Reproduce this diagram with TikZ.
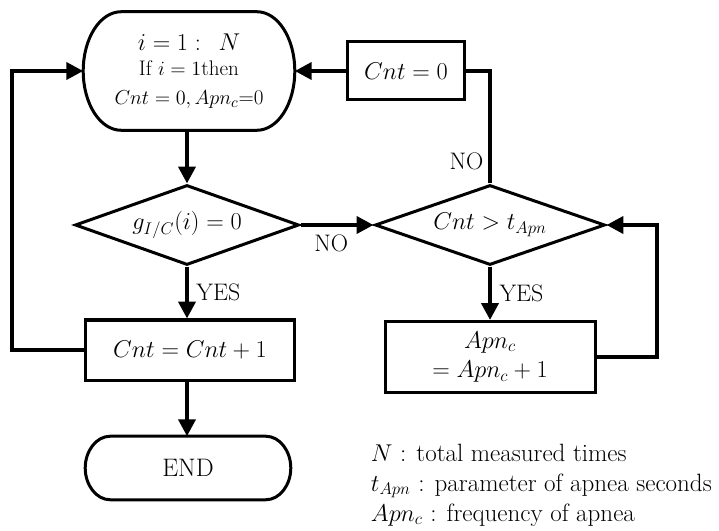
\documentclass[tikz,border=0pt]{standalone}
\usepackage{amsmath}
\usetikzlibrary{arrows.meta,shapes.geometric,calc}

\begin{document}
\begin{tikzpicture}[x=0.25mm, y=-0.25mm,
    font=\fontsize{18}{21}\selectfont,
    border/.style={line width=0.75mm},
    conn/.style={line width=1mm},
    arr/.style={line width=1mm, -{Triangle[length=4.2mm, width=4.2mm]}},
    box/.style={draw, border, inner sep=0pt, align=center},
    cond/.style={draw, border, diamond, inner sep=0pt},
    term/.style={inner sep=0pt, align=center},
    lbl/.style={font=\fontsize{17}{20}\selectfont}]

    \useasboundingbox (0,0) rectangle (719,531);

    % Left column
    \node[term, minimum width=52.75mm, minimum height=29.5mm] (start) at (189, 71)
        {$i = 1 :\;\, N$\\[-3pt]
         {\fontsize{15}{16}\selectfont If $i = 1$then}\\[-1pt]
         {\fontsize{15}{16}\selectfont $Cnt = 0, Apn_c$=0}};
    \node[cond, aspect=2.8, minimum width=56mm, minimum height=20mm] (gic) at (187, 225)
        {$g_{I/C}(i) = 0$};
    \node[box, minimum width=52mm, minimum height=15mm] (inc) at (190, 350)
        {$Cnt = Cnt + 1$};
    \node[term, minimum width=51.25mm, minimum height=15.75mm] (stop) at (188, 468) {END};

    % Right column
    \node[box, minimum width=29.25mm, minimum height=14.5mm] (reset) at (406, 71)
        {$Cnt = 0$};
    \node[cond, aspect=2.875, minimum width=57.5mm, minimum height=20mm] (cmp) at (490, 225)
        {$Cnt > t_{Apn}$};
    \node[box, minimum width=52.5mm, minimum height=17.75mm] (apn) at (490, 357)
        {$Apn_c$\\$= Apn_c + 1$};

    % Terminator outlines
    \draw[border] ($(start.north west)+(38,0)$) -- ($(start.north east)+(-38,0)$)
        .. controls ($(start.north east)+(-17,0)$) and ($(start.east)+(0,-33)$) .. (start.east)
        .. controls ($(start.east)+(0,33)$) and ($(start.south east)+(-17,0)$) .. ($(start.south east)+(-38,0)$)
        -- ($(start.south west)+(38,0)$)
        .. controls ($(start.south west)+(17,0)$) and ($(start.west)+(0,33)$) .. (start.west)
        .. controls ($(start.west)+(0,-33)$) and ($(start.north west)+(17,0)$) .. cycle;
    \draw[border] ($(stop.north west)+(25,0)$) -- ($(stop.north east)+(-25,0)$)
        .. controls ($(stop.north east)+(-11,0)$) and ($(stop.east)+(0,-17)$) .. (stop.east)
        .. controls ($(stop.east)+(0,17)$) and ($(stop.south east)+(-11,0)$) .. ($(stop.south east)+(-25,0)$)
        -- ($(stop.south west)+(25,0)$)
        .. controls ($(stop.south west)+(11,0)$) and ($(stop.west)+(0,17)$) .. (stop.west)
        .. controls ($(stop.west)+(0,-17)$) and ($(stop.north west)+(11,0)$) .. cycle;

    % Connectors
    \draw[arr] (start.south -| gic.north) -- (gic.north);
    \draw[arr] (gic.south) -- node[lbl, right, xshift=2pt] {YES} (gic.south |- inc.north);
    \draw[arr] (gic.south |- inc.south) -- (gic.south |- stop.north);
    \draw[arr] (inc.west) -- ++(-72,0) |- (start.west);
    \draw[arr] (gic.east) -- node[lbl, below, pos=0.42, yshift=-2pt] {NO} (cmp.west);
    \draw[conn] (cmp.north) |- node[lbl, left, pos=0.1] {NO} (reset.east);
    \draw[arr] (reset.west) -- (start.east);
    \draw[arr] (cmp.south) -- node[lbl, right, xshift=2pt] {YES} (cmp.south |- apn.north);
    \draw[arr] (apn.east) -- ++(60,0) |- (cmp.east);

    % Legend
    \node[anchor=west, align=left, font=\fontsize{17.8}{21.3}\selectfont] (legend) at (366, 485)
        {$N$ : total measured times\\
         $t_{Apn}$ : parameter of apnea seconds\\
         $Apn_c$ : frequency of apnea};

\end{tikzpicture}
\end{document}
